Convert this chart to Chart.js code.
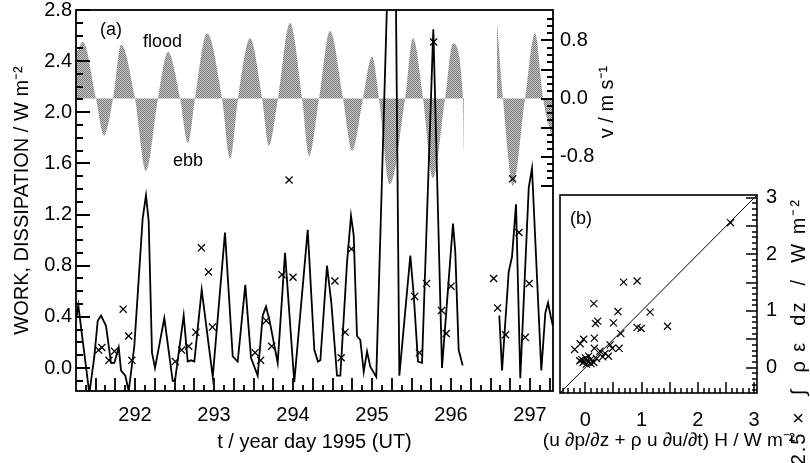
<!DOCTYPE html>
<html>
<head>
<meta charset="utf-8">
<script src="https://cdn.jsdelivr.net/npm/chart.js@4"></script>
<style>
  html, body { margin: 0; padding: 0; background: #fff; }
  #wrap { position: relative; width: 810px; height: 463px; overflow: hidden; }
  canvas { position: absolute; left: 0; top: 0; }
</style>
</head>
<body>
<div id="wrap">
  <canvas id="panel-a" width="810" height="463"></canvas>
  <canvas id="panel-b" width="810" height="463"></canvas>
</div>
<script>
// (a) depth-integrated work (line); null = data gap
const workDay = [291.26, 291.282, 291.422, 291.485, 291.528, 291.57, 291.633, 291.696, 291.738, 291.794,
  291.823, 291.877, 291.92, 291.991, 292.097, 292.139, 292.173, 292.215, 292.253, 292.371,
  292.477, 292.506, 292.616, 292.667, 292.709, 292.751, 292.844, 292.984, 293.139, 293.237,
  293.3, 293.396, 293.468, 293.553, 293.616, 293.658, 293.7, 293.806, 293.899, 294.016,
  294.186, 294.27, 294.316, 294.346, 294.43, 294.485, 294.557, 294.599, 294.684, 294.734,
  294.768, 294.81, 294.852, 294.895, 294.937, 294.978, 295.054, 295.276, 295.346, 295.485,
  295.528, 295.582, 295.633, 295.776, 295.886, 296.025, 296.054, 296.097, 296.148, 296.38,
  296.611, 296.646, 296.73, 296.772, 296.823, 296.877, 296.984, 297.025, 297.143, 297.194,
  297.228, 297.27, 297.29];
const workVal = [0.40, 0.49, -0.2, 0.09, 0.37, 0.41, 0.33, 0.04, 0.04, 0.16,
  -0.02, -0.06, -0.18, 0.17, 1.17, 1.35, 1.15, 0.12, 0.0, 0.39,
  -0.10, -0.10, 0.41, 0.05, 0.06, 0.05, 0.61, -0.07, 1.06, 0.09,
  0.05, 0.65, 0.08, -0.06, 0.41, 0.48, 0.38, 0.04, 0.90, -0.11,
  1.08, 0.14, 0.05, 0.06, 0.80, 0.51, -0.06, -0.06, 0.83, 1.19,
  1.04, 0.25, 0.22, -0.03, 0.13, 0.01, -0.07, 4.7, -0.06, 0.88,
  0.57, 0.05, 0.04, 2.65, 0.0, 1.13, 0.91, 0.14, 0.02, null,
  0.41, -0.02, 0.75, 0.87, 1.28, -0.08, 1.41, 1.56, -0.02, 0.43,
  0.51, 0.38, 0.33];

// (a) dissipation estimates (crosses)
const crossDay = [291.54, 291.58, 291.67, 291.74, 291.85, 291.92, 291.96,
  292.51, 292.59, 292.68, 292.77, 292.84, 292.93, 292.98,
  293.52, 293.59, 293.66, 293.73, 293.86, 293.95, 294.0,
  294.53, 294.61, 294.66, 294.74,
  295.54, 295.6, 295.69, 295.78, 295.88, 295.94, 296.0,
  296.54, 296.59, 296.69, 296.78, 296.86, 296.94, 296.99];
const crossVal = [0.14, 0.16, 0.06, 0.13, 0.46, 0.25, 0.06,
  0.05, 0.14, 0.17, 0.28, 0.94, 0.75, 0.32,
  0.12, 0.06, 0.37, 0.17, 0.73, 1.47, 0.71,
  0.68, 0.08, 0.28, 0.93,
  0.56, 0.12, 0.66, 2.55, 0.45, 0.27, 0.64,
  0.70, 0.47, 0.26, 1.48, 1.06, 0.24, 0.66];

// (a) tidal current v, m/s (shaded, right axis)
const tideDay = [291.253, 291.342, 291.506, 291.608, 291.722, 291.823, 292.0, 292.139, 292.291, 292.418,
  292.57, 292.671, 292.759, 292.911, 293.101, 293.203, 293.304, 293.456, 293.608, 293.696,
  293.81, 293.962, 294.114, 294.203, 294.329, 294.468, 294.633, 294.747, 294.886, 295.0,
  295.089, 295.228, 295.418, 295.519, 295.646, 295.772, 295.924, 296.025, 296.152, 296.165,
  296.4, 296.582, 296.658, 296.785, 296.937, 297.063, 297.165, 297.291];
const tideVel = [0.62, 0.78, 0, -0.51, 0, 0.74, 0, -1.0, 0, 0.64,
  0, -0.61, 0, 0.90, 0, -0.83, 0, 0.83, 0, -0.65,
  0, 1.04, 0, -0.79, 0, 0.93, 0, -0.72, 0, 0.58,
  0, -1.18, 0, 0.83, 0, -1.10, 0, 0.76, 0, -0.76,
  null, 1.05, 0, -1.21, 0, 0.90, 0, -0.6];

// (b) scatter
const bForcing = [2.58, 0.68, 0.92, 0.15, 0.58, 1.15, 0.18, 0.22, 0.50, 0.63, 0.92, 0.99,
  1.46, -0.03, 0.16, -0.09, -0.19, 0.16, 0.44, 0.48, 0.60, 0.26, 0.35, 0.41,
  0.31, -0.06, 0.0, 0.03, 0.09, 0.15, -0.04, 0.06, 0.20, 0.10, 0.02, -0.10];
const bDissip = [2.56, 1.51, 1.53, 1.13, 0.99, 0.98, 0.78, 0.82, 0.79, 0.60, 0.71, 0.69,
  0.73, 0.50, 0.52, 0.42, 0.32, 0.34, 0.40, 0.34, 0.34, 0.29, 0.25, 0.20,
  0.19, 0.14, 0.17, 0.12, 0.14, 0.09, 0.09, 0.20, 0.16, 0.07, 0.06, 0.12];
const oneToOne = [-0.45, 3.05];

const dissTicks = [0, 0.4, 0.8, 1.2, 1.6, 2.0, 2.4, 2.8];
const velTicks = [-0.8, 0, 0.8];
const dayTicks = [292, 293, 294, 295, 296, 297];
const bTicks = [0, 1, 2, 3];

const FONT = '"Liberation Sans", Arial, Helvetica, sans-serif';
Chart.defaults.font.family = FONT;
Chart.defaults.font.size = 20;
Chart.defaults.color = '#000';

const toXY = (xs, ys) => xs.map((x, i) => ({ x, y: ys[i] }));
const fixTicks = (arr) => (s) => { s.ticks = arr.map((value) => ({ value })); };
const isMult = (v, m) => Math.abs(v / m - Math.round(v / m)) < 1e-6;

function halftone(canvas) {
    const c = document.createElement('canvas');
    c.width = 2;
    c.height = 2;
    const g = c.getContext('2d');
    g.fillStyle = '#c8c8c8';
    g.fillRect(0, 0, 2, 2);
    g.fillStyle = '#7a7a7a';
    g.fillRect(0, 0, 1, 1);
    g.fillRect(1, 1, 1, 1);
    return canvas.getContext('2d').createPattern(c, 'repeat');
}

// inward tick marks along one edge of the plot box
function edgeTicks(ctx, scale, from, to, step, majorStep, edge, dir, long, short) {
    const n = Math.round((to - from) / step);
    ctx.beginPath();
    for (let i = 0; i <= n; i++) {
        const v = from + i * step;
        const p = Math.round(scale.getPixelForValue(v));
        const len = isMult(v, majorStep) ? long : short;
        if (scale.isHorizontal()) {
            ctx.moveTo(p, edge);
            ctx.lineTo(p, edge + dir * len);
        } else {
            ctx.moveTo(edge, p);
            ctx.lineTo(edge + dir * len, p);
        }
    }
    ctx.stroke();
}

const frameA = {
    id: 'frameA',
    afterDraw(chart) {
        const { ctx, chartArea: a, scales } = chart;
        ctx.save();
        ctx.strokeStyle = '#000';
        ctx.lineWidth = 1.8;
        ctx.strokeRect(a.left, a.top, a.right - a.left, a.bottom - a.top);
        ctx.lineWidth = 1.8;
        edgeTicks(ctx, scales.y, -0.1, 2.8, 0.1, 0.4, a.left, 1, 14, 7);
        edgeTicks(ctx, scales.x, 291.375, 297.25, 0.125, 0.25, a.bottom, -1, 13, 6);
        edgeTicks(ctx, scales.v, -1.2, 1.1, 0.1, 0.4, a.right, -1, 12, 6);

        ctx.fillStyle = '#000';
        ctx.font = `18px ${FONT}`;
        ctx.textBaseline = 'middle';
        ctx.textAlign = 'left';
        ctx.fillText('(a)', 100, 30);
        ctx.fillText('flood', 143, 42);
        ctx.fillText('ebb', 173, 161);

        ctx.font = `20px ${FONT}`;
        ctx.translate(607, 102);
        ctx.rotate(-Math.PI / 2);
        ctx.textAlign = 'center';
        ctx.fillText('v / m s⁻¹', 0, 0);
        ctx.restore();
    },
};

const frameB = {
    id: 'frameB',
    afterDraw(chart) {
        const { ctx, chartArea: a, scales } = chart;
        ctx.save();
        ctx.strokeStyle = '#000';
        ctx.lineWidth = 1.6;
        ctx.strokeRect(a.left, a.top, a.right - a.left, a.bottom - a.top);
        ctx.lineWidth = 1.5;
        edgeTicks(ctx, scales.x, -0.4, 3.0, 0.1, 0.5, a.bottom, -1, 11, 5);
        edgeTicks(ctx, scales.y, -0.4, 3.0, 0.1, 0.5, a.right, -1, 11, 5);

        ctx.fillStyle = '#000';
        ctx.textBaseline = 'middle';
        ctx.font = `18px ${FONT}`;
        ctx.textAlign = 'left';
        ctx.fillText('(b)', 570, 219);

        ctx.font = `19px ${FONT}`;
        ctx.textAlign = 'center';
        ctx.fillText('(u ∂p/∂z + ρ u ∂u/∂t) H / W m⁻²', 669, 441);

        ctx.font = `20px ${FONT}`;
        ctx.translate(799, 198);
        ctx.rotate(-Math.PI / 2);
        ctx.textAlign = 'right';
        ctx.letterSpacing = '2px';
        ctx.fillText('2.5 ×  ∫  ρ ε  dz  /  W m⁻²', 0, 0);
        ctx.restore();
    },
};

const noGrid = { display: false, drawTicks: false };
const noBorder = { display: false };

const canvasA = document.getElementById('panel-a');
new Chart(canvasA, {
    type: 'line',
    data: {
        datasets: [
            {
                label: 'work',
                data: toXY(workDay, workVal),
                yAxisID: 'y',
                borderColor: '#000',
                borderWidth: 1.8,
                pointRadius: 0,
                tension: 0,
                spanGaps: false,
                order: 1,
            },
            {
                label: 'dissipation',
                data: toXY(crossDay, crossVal),
                yAxisID: 'y',
                showLine: false,
                pointStyle: 'crossRot',
                pointRadius: 5,
                borderColor: '#000',
                pointBorderWidth: 1.3,
                order: 0,
            },
            {
                label: 'v',
                data: toXY(tideDay, tideVel),
                yAxisID: 'v',
                borderWidth: 0,
                borderColor: 'rgba(0,0,0,0)',
                pointRadius: 0,
                fill: 'origin',
                backgroundColor: halftone(canvasA),
                cubicInterpolationMode: 'monotone',
                spanGaps: false,
                order: 2,
            },
        ],
    },
    options: {
        responsive: false,
        animation: false,
        events: [],
        layout: { padding: { top: 10, left: 0, right: 197, bottom: 0 } },
        plugins: { legend: { display: false }, tooltip: { enabled: false } },
        scales: {
            x: {
                type: 'linear',
                min: 291.253,
                max: 297.291,
                grid: noGrid,
                border: noBorder,
                afterBuildTicks: fixTicks(dayTicks),
                afterFit: (s) => { s.height = 72; s.paddingLeft = 0; s.paddingRight = 0; },
                ticks: { padding: 12, maxRotation: 0, autoSkip: false, callback: (v) => String(v) },
                title: { display: true, text: 't / year day 1995 (UT)', padding: { top: 0, bottom: 9 } },
            },
            y: {
                position: 'left',
                min: -0.18,
                max: 2.8,
                grid: noGrid,
                border: noBorder,
                afterBuildTicks: fixTicks(dissTicks),
                afterFit: (s) => { s.width = 76; s.paddingTop = 0; s.paddingBottom = 0; },
                ticks: { padding: 4, autoSkip: false, callback: (v) => v.toFixed(1) },
                title: { display: true, text: 'WORK, DISSIPATION / W m⁻²', padding: { top: 10, bottom: 0 } },
            },
            v: {
                position: 'right',
                min: -4.03,
                max: 1.22,
                grid: noGrid,
                border: noBorder,
                afterBuildTicks: fixTicks(velTicks),
                afterFit: (s) => { s.width = 60; s.paddingTop = 0; s.paddingBottom = 0; },
                ticks: { padding: 7, autoSkip: false, callback: (v) => v.toFixed(1) },
            },
        },
    },
    plugins: [frameA],
});

new Chart(document.getElementById('panel-b'), {
    type: 'scatter',
    data: {
        datasets: [
            {
                label: 'b',
                data: toXY(bForcing, bDissip),
                pointStyle: 'crossRot',
                pointRadius: 5,
                borderColor: '#000',
                pointBorderWidth: 1.2,
                order: 0,
            },
            {
                type: 'line',
                label: '1:1',
                data: toXY(oneToOne, oneToOne),
                showLine: true,
                borderColor: '#000',
                borderWidth: 1,
                pointRadius: 0,
                order: 1,
            },
        ],
    },
    options: {
        responsive: false,
        animation: false,
        events: [],
        layout: { padding: { top: 195, left: 560, right: 18, bottom: 0 } },
        plugins: { legend: { display: false }, tooltip: { enabled: false } },
        scales: {
            x: {
                type: 'linear',
                min: -0.45,
                max: 3.05,
                grid: noGrid,
                border: noBorder,
                afterBuildTicks: fixTicks(bTicks),
                afterFit: (s) => { s.height = 70; s.paddingLeft = 0; s.paddingRight = 0; },
                ticks: { padding: 15, maxRotation: 0, autoSkip: false, callback: (v) => String(v) },
            },
            y: {
                type: 'linear',
                position: 'right',
                min: -0.45,
                max: 3.05,
                grid: noGrid,
                border: noBorder,
                afterBuildTicks: fixTicks(bTicks),
                afterFit: (s) => { s.width = 35; s.paddingTop = 0; s.paddingBottom = 0; },
                ticks: { padding: 9, autoSkip: false, callback: (v) => String(v) },
            },
        },
    },
    plugins: [frameB],
});
</script>
</body>
</html>
